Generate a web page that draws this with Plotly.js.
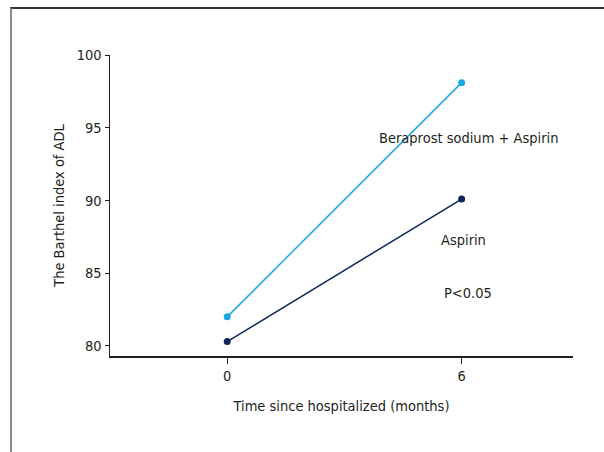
<!DOCTYPE html>
<html>
<head>
<meta charset="utf-8">
<script src="https://cdn.plot.ly/plotly-3.0.1.min.js"></script>
<style>
html,body{margin:0;padding:0;background:#fff;}
#wrap{position:relative;width:604px;height:452px;}
#chart{position:absolute;left:0;top:0;width:604px;height:452px;}
#frame{position:absolute;left:10px;top:7px;width:594px;height:445px;border-top:2px solid #333;border-left:2px solid #8a8a8a;box-sizing:border-box;pointer-events:none;}
</style>
</head>
<body>
<div id="wrap"><div id="chart"></div><div id="frame"></div></div>
<script>
const months = [0, 6];
const beraprostAspirin = [82.0, 98.1];
const aspirinOnly = [80.3, 90.1];
const seriesNames = ['Beraprost sodium + Aspirin', 'Aspirin'];
const yTicks = [80, 85, 90, 95, 100];
const xTicks = [0, 6];

const FONT = '"DejaVu Sans Condensed", "Liberation Sans Narrow", Arial, sans-serif';
const TXT = '#231f20';
const FS = 14.5;

const traces = [
  {x: months, y: beraprostAspirin, name: seriesNames[0], mode: 'lines+markers',
   line: {color: '#1ba7e1', width: 1.5}, marker: {color: '#1ba7e1', size: 7}},
  {x: months, y: aspirinOnly, name: seriesNames[1], mode: 'lines+markers',
   line: {color: '#0b2859', width: 1.5}, marker: {color: '#0b2859', size: 7}}
];

const layout = {
  width: 604, height: 452,
  margin: {l: 110, r: 31, t: 55, b: 96},
  paper_bgcolor: '#fff', plot_bgcolor: '#fff',
  showlegend: false,
  font: {family: FONT, size: FS, color: TXT},
  xaxis: {
    range: [-3.0, 8.85], tickvals: xTicks, ticktext: xTicks.map(String),
    showgrid: false, zeroline: false, showline: true, linecolor: '#231f20', linewidth: 1.5,
    ticks: 'outside', ticklen: 6, tickwidth: 1, tickcolor: '#231f20',
    tickfont: {family: FONT, size: FS, color: TXT},
    title: {text: 'Time since hospitalized (months)', font: {family: FONT, size: FS, color: TXT}, standoff: 18}
  },
  yaxis: {
    range: [79.31, 100], tickvals: yTicks, ticktext: yTicks.map(String),
    showgrid: false, zeroline: false, showline: true, linecolor: '#231f20', linewidth: 1.5,
    ticks: 'outside', ticklen: 4, tickwidth: 1, tickcolor: '#231f20',
    tickfont: {family: FONT, size: FS, color: TXT},
    title: {text: 'The Barthel index of ADL', font: {family: FONT, size: FS, color: TXT}, standoff: 8}
  },
  annotations: [
    {x: 6.18, y: 94.3, xref: 'x', yref: 'y', text: seriesNames[0], showarrow: false, font: {family: FONT, size: FS, color: TXT}},
    {x: 6.05, y: 87.3, xref: 'x', yref: 'y', text: seriesNames[1], showarrow: false, font: {family: FONT, size: FS, color: TXT}},
    {x: 6.15, y: 83.65, xref: 'x', yref: 'y', text: 'P&lt;0.05', showarrow: false, font: {family: FONT, size: FS, color: TXT}}
  ]
};

Plotly.newPlot('chart', traces, layout, {displayModeBar: false, staticPlot: true});
</script>
</body>
</html>
